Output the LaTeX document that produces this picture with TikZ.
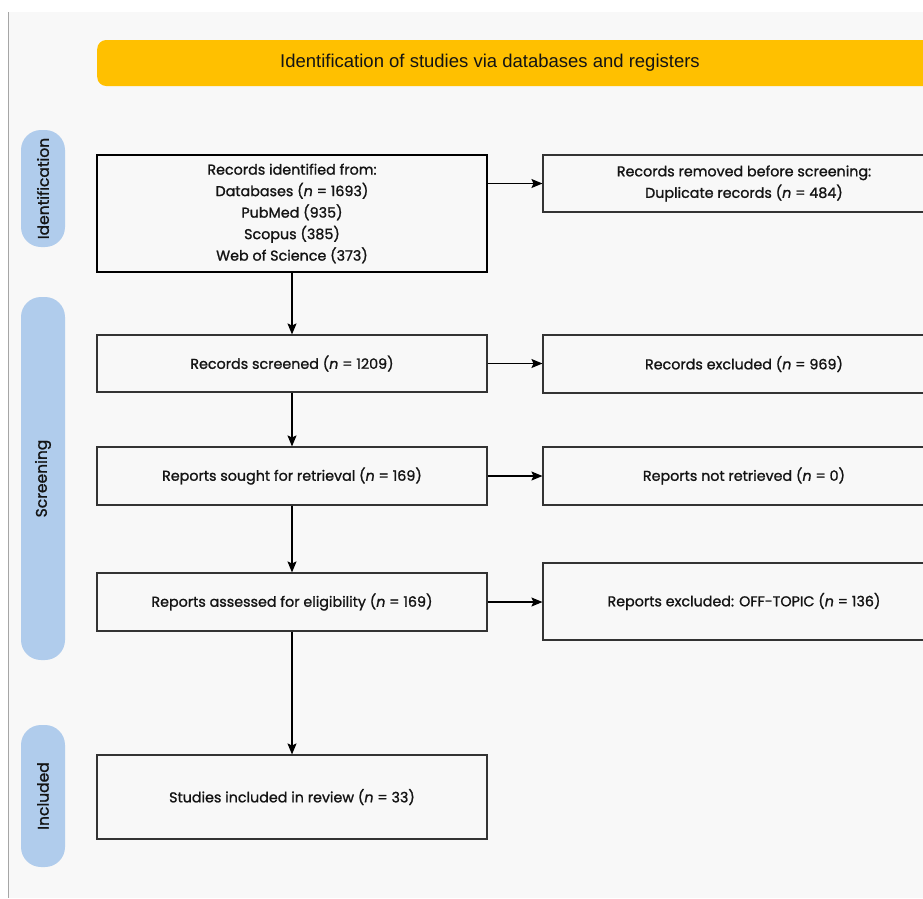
\documentclass[tikz,border=0pt]{standalone}
\usepackage{fontspec}
\setmainfont{Poppins}[FakeBold=1.2]
\newfontfamily\barfont{Liberation Sans}
\usetikzlibrary{arrows.meta}
\definecolor{bgc}{RGB}{248,248,248}
\definecolor{baryel}{RGB}{255,192,0}
\definecolor{pillblue}{RGB}{176,204,236}
\definecolor{txt}{RGB}{20,20,20}
\begin{document}
\begin{tikzpicture}[x=1pt,y=-1pt,
  every node/.style={text=txt},
  box/.style={draw=black!80, line width=1.1pt, inner sep=0pt, align=center,
    font=\fontsize{14.3}{21.5}\selectfont},
  lbox/.style={box, minimum width=390pt},
  rbox/.style={box, minimum width=402pt},
  pill/.style={fill=pillblue, rounded corners=20pt, inner sep=0pt, rotate=90,
    minimum height=44pt, font=\fontsize{15.5}{17}\selectfont},
  arr/.style={draw=black, line width=1.2pt, -{Stealth[length=11pt,width=9pt,inset=2pt]}}
]
\useasboundingbox (0,0) rectangle (923,898);
\clip (0,0) rectangle (923,898);
\fill[white] (0,0) rectangle (923,898);
\fill[bgc] (8,12) rectangle (923,898);
\draw[black!35, line width=0.8pt] (8,12) -- (8,898);

% title bar
\node[fill=baryel, rounded corners=9pt, minimum width=850pt, minimum height=46pt,
  anchor=west, inner sep=0pt] (bar) at (97,63) {};
\node[font=\barfont\fontsize{18.5}{20}\selectfont] (title) at (490,63)
  {Identification of studies via databases and registers};

% side pills
\node[pill, minimum width=117pt] (pid) at (43,188.5) {Identification};
\node[pill, minimum width=363pt] (psc) at (43,478.5) {Screening};
\node[pill, minimum width=142pt] (pin) at (43,796) {Included};

% left boxes
\node[lbox, line width=2.8pt, draw=black, minimum height=117pt] (ident) at (292,213.5)
  {Records identified from:\\Databases (\textit{n} = 1693)\\PubMed (935)\\Scopus (385)\\Web of Science (373)};
\node[lbox, minimum height=57pt] (scr) at (292,363.5) {Records screened (\textit{n} = 1209)};
\node[lbox, minimum height=58pt] (sought) at (292,476) {Reports sought for retrieval (\textit{n} = 169)};
\node[lbox, minimum height=58pt] (assess) at (292,602) {Reports assessed for eligibility (\textit{n} = 169)};
\node[lbox, minimum height=84pt] (incl) at (292,797) {Studies included in review (\textit{n} = 33)};

% right boxes
\node[rbox, minimum height=57pt] (rem) at (744,183.5)
  {Records removed before screening:\\Duplicate records (\textit{n} = 484)};
\node[rbox, minimum height=58pt] (exc) at (744,364) {Records excluded (\textit{n} = 969)};
\node[rbox, minimum height=58pt] (notret) at (744,476) {Reports not retrieved (\textit{n} = 0)};
\node[rbox, minimum height=77pt] (offt) at (744,601.5) {Reports excluded: OFF-TOPIC (\textit{n} = 136)};

% arrows
\draw[arr] (ident.east |- rem.west) -- (rem.west);
\draw[arr] (scr.east) -- (scr.east -| exc.west);
\draw[arr] (sought.east) -- (sought.east -| notret.west);
\draw[arr] (assess.east) -- (assess.east -| offt.west);
\draw[arr] (ident.south) -- (scr.north);
\draw[arr] (scr.south) -- (sought.north);
\draw[arr] (sought.south) -- (assess.north);
\draw[arr] (assess.south) -- (incl.north);
\end{tikzpicture}
\end{document}
